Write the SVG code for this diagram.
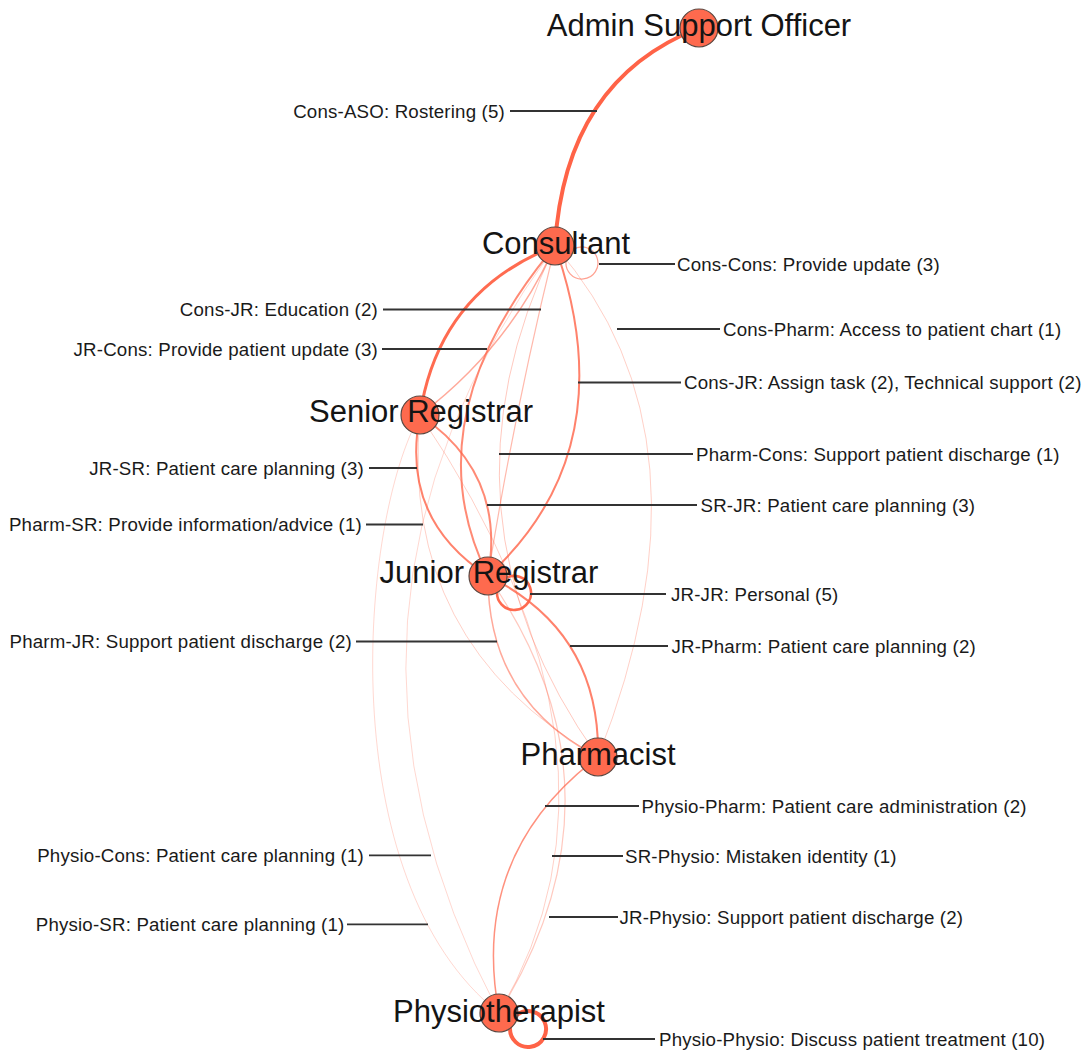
<svg xmlns="http://www.w3.org/2000/svg" width="1088" height="1055" viewBox="0 0 1088 1055">
<style>
.e{fill:none;stroke:#ff6347;stroke-linecap:round}
.n{fill:#fe6a4e;stroke:#5a4842;stroke-width:1.2}
.nl{font-family:"Liberation Sans",Arial,Helvetica,sans-serif;font-size:31px;fill:#141414;text-anchor:middle}
.l{font-family:"Liberation Sans",Arial,Helvetica,sans-serif;font-size:18.7px;letter-spacing:0.18px;fill:#1a1a1a}
.r{text-anchor:start}
.lt{text-anchor:end}
.ld{stroke:#333;stroke-width:1.8}
</style>
<rect width="1088" height="1055" fill="#fff"/>
<g id="connectors">
<path class="e" d="M555,246 Q565,80 699,28" stroke-width="4"/>
<path class="e" d="M555,246 Q438.5,291.5 420,415" stroke-width="3" stroke-opacity="0.95"/>
<path class="e" d="M420,415 Q509,348 555,246" stroke-width="1.5" stroke-opacity="0.55"/>
<path class="e" d="M555,246 Q410.5,419 488,576" stroke-width="2" stroke-opacity="0.75"/>
<path class="e" d="M555,246 Q514.5,411 488,576" stroke-width="1.2" stroke-opacity="0.45"/>
<path class="e" d="M555,246 Q626.5,449 488,576" stroke-width="2" stroke-opacity="0.8"/>
<path class="e" d="M555,246 Q723.5,438.5 598,757" stroke-width="1" stroke-opacity="0.3"/>
<path class="e" d="M555,246 Q425,514 598,757" stroke-width="1" stroke-opacity="0.35"/>
<path class="e" d="M420,415 Q506.4,473.5 488,576" stroke-width="2" stroke-opacity="0.75"/>
<path class="e" d="M420,415 Q399.6,518.5 488,576" stroke-width="2" stroke-opacity="0.8"/>
<path class="e" d="M420,415 Q399,643 598,757" stroke-width="1" stroke-opacity="0.3"/>
<path class="e" d="M488,576 Q600.6,631.5 598,757" stroke-width="2" stroke-opacity="0.8"/>
<path class="e" d="M488,576 Q487.6,700 598,757" stroke-width="1.5" stroke-opacity="0.55"/>
<path class="e" d="M598,757 Q469.3,854.4 499,1013" stroke-width="1.5" stroke-opacity="0.7"/>
<path class="e" d="M420,415 Q650.5,756 499,1013" stroke-width="1" stroke-opacity="0.3"/>
<path class="e" d="M488,576 Q636.5,789.5 499,1013" stroke-width="1.2" stroke-opacity="0.35"/>
<path class="e" d="M555,246 Q287.8,612 499,1013" stroke-width="1" stroke-opacity="0.25"/>
<path class="e" d="M420,415 C360,520 330,880 499,1013" stroke-width="1" stroke-opacity="0.25"/>
<path class="e" d="M566.2,260.2 A16,16 0 1 0 572.8,249.9" stroke-width="1.2" stroke-opacity="0.6"/>
<path class="e" d="M497.3,590 A17,17 0 1 0 504.5,578.9" stroke-width="2.6" stroke-opacity="0.95"/>
<path class="e" d="M510.1,1027.4 A18,18 0 1 0 517.2,1014.6" stroke-width="4"/>
</g>
<g id="node-aso"><circle class="n" cx="699" cy="28" r="19"/><text class="nl" x="699" y="36">Admin Support Officer</text></g>
<g id="node-cons"><circle class="n" cx="555" cy="246" r="19"/><text class="nl" x="556" y="254">Consultant</text></g>
<g id="node-sr"><circle class="n" cx="420" cy="415" r="19"/><text class="nl" x="421" y="422">Senior Registrar</text></g>
<g id="node-jr"><circle class="n" cx="488" cy="576" r="19"/><text class="nl" x="489" y="583">Junior Registrar</text></g>
<g id="node-pharm"><circle class="n" cx="598" cy="757" r="19"/><text class="nl" x="598" y="765">Pharmacist</text></g>
<g id="node-physio"><circle class="n" cx="499" cy="1013" r="19"/><text class="nl" x="499" y="1022">Physiotherapist</text></g>
<g id="edge-labels">
<line class="ld" x1="510" y1="111" x2="597" y2="111"/><text class="l lt" x="505" y="117.5">Cons-ASO: Rostering (5)</text>
<line class="ld" x1="599" y1="264" x2="675" y2="264"/><text class="l r" x="677" y="270.5">Cons-Cons: Provide update (3)</text>
<line class="ld" x1="383" y1="309.5" x2="541" y2="309.5"/><text class="l lt" x="378" y="316">Cons-JR: Education (2)</text>
<line class="ld" x1="617" y1="329" x2="720" y2="329"/><text class="l r" x="723" y="335.5">Cons-Pharm: Access to patient chart (1)</text>
<line class="ld" x1="382" y1="349" x2="487" y2="349"/><text class="l lt" x="378" y="355.5">JR-Cons: Provide patient update (3)</text>
<line class="ld" x1="578" y1="382.5" x2="681" y2="382.5"/><text class="l r" x="684" y="389">Cons-JR: Assign task (2), Technical support (2)</text>
<line class="ld" x1="499" y1="454" x2="693" y2="454"/><text class="l r" x="696" y="460.5">Pharm-Cons: Support patient discharge (1)</text>
<line class="ld" x1="369" y1="468" x2="417" y2="468"/><text class="l lt" x="364" y="474.5">JR-SR: Patient care planning (3)</text>
<line class="ld" x1="487" y1="505" x2="697" y2="505"/><text class="l r" x="700.5" y="511.5">SR-JR: Patient care planning (3)</text>
<line class="ld" x1="366" y1="524.5" x2="423" y2="524.5"/><text class="l lt" x="362" y="531">Pharm-SR: Provide information/advice (1)</text>
<line class="ld" x1="530" y1="594" x2="666" y2="594"/><text class="l r" x="671" y="600.5">JR-JR: Personal (5)</text>
<line class="ld" x1="356" y1="641.5" x2="497" y2="641.5"/><text class="l lt" x="352" y="648">Pharm-JR: Support patient discharge (2)</text>
<line class="ld" x1="570" y1="646" x2="668" y2="646"/><text class="l r" x="671.5" y="652.5">JR-Pharm: Patient care planning (2)</text>
<line class="ld" x1="545" y1="806" x2="639" y2="806"/><text class="l r" x="641.5" y="812.5">Physio-Pharm: Patient care administration (2)</text>
<line class="ld" x1="369" y1="855.3" x2="431" y2="855.3"/><text class="l lt" x="364" y="862">Physio-Cons: Patient care planning (1)</text>
<line class="ld" x1="552" y1="856" x2="623" y2="856"/><text class="l r" x="625" y="862.5">SR-Physio: Mistaken identity (1)</text>
<line class="ld" x1="549" y1="917" x2="618" y2="917"/><text class="l r" x="619.5" y="923.5">JR-Physio: Support patient discharge (2)</text>
<line class="ld" x1="347" y1="924.3" x2="428" y2="924.3"/><text class="l lt" x="344.5" y="931">Physio-SR: Patient care planning (1)</text>
<line class="ld" x1="543" y1="1039" x2="655" y2="1039"/><text class="l r" x="659" y="1045.5">Physio-Physio: Discuss patient treatment (10)</text>
</g>
</svg>
